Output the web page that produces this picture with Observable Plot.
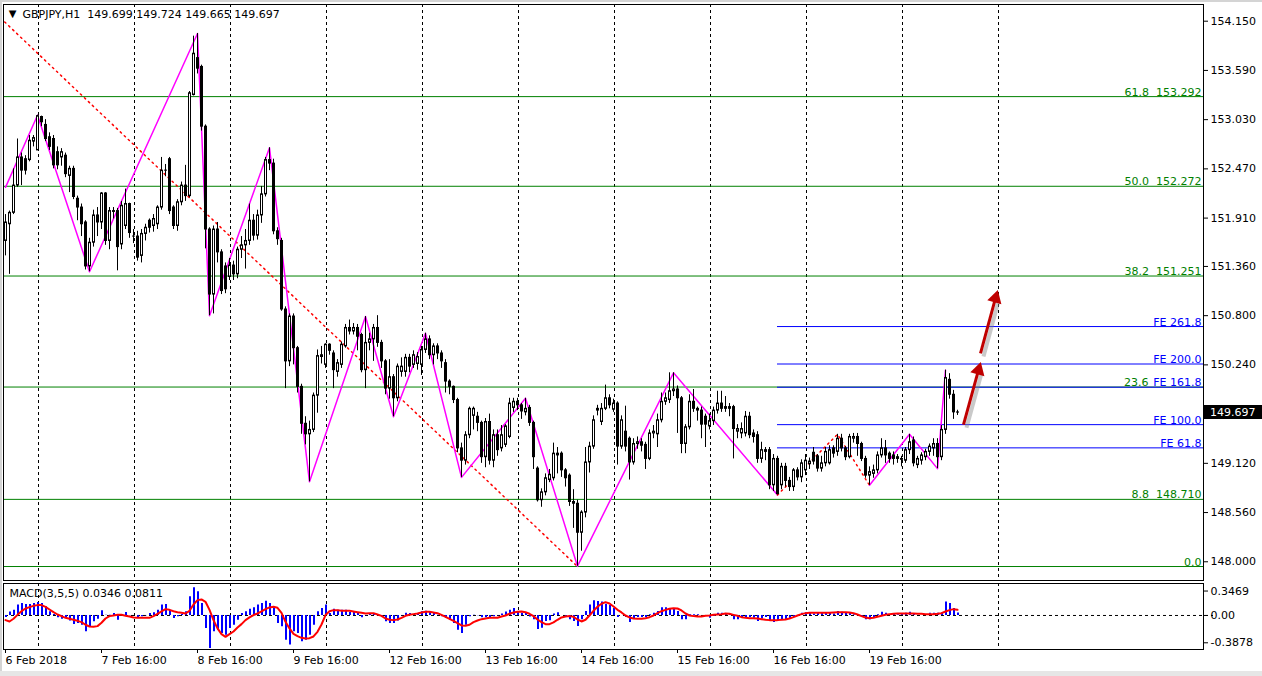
<!DOCTYPE html>
<html><head><meta charset="utf-8">
<script src="https://cdn.jsdelivr.net/npm/d3@7"></script>
<script src="https://cdn.jsdelivr.net/npm/@observablehq/plot@0.6"></script>
<style>
html,body{margin:0;padding:0;background:#fff;}
#wrap{position:relative;width:1262px;height:676px;overflow:hidden;background:#fff;}
#main{position:absolute;left:0;top:0;}
#macd{position:absolute;left:0;top:582px;}
.edge{position:absolute;background:#d4d4d4;}
</style></head>
<body><div id="wrap"><div id="main"></div><div id="macd"></div>
<div class="edge" style="left:0;top:0;width:1262px;height:2px;"></div>
<div class="edge" style="left:0;top:0;width:2px;height:676px;"></div>
<div class="edge" style="left:0;top:671px;width:1262px;height:5px;background:#e6e6e6;"></div>
</div>
<script>
// ---------- data (GBPJPY H1, one value per hourly bar) ----------
const symbol = "GBPJPY,H1";
const open = [
151.65,151.84,151.97,152.28,152.60,152.58,152.57,152.78,152.68,153.06,
152.97,152.83,152.81,152.66,152.60,152.62,152.39,152.47,152.13,152.03,
151.86,151.36,151.63,151.94,151.86,152.19,151.65,151.99,151.99,151.61,
151.82,152.07,151.70,151.70,151.48,151.73,151.88,151.82,151.84,152.03,
152.45,152.58,152.03,151.82,152.09,152.28,152.16,153.31,153.73,153.63,
152.95,151.78,151.04,151.78,151.52,151.36,151.24,151.37,151.27,151.55,
151.60,151.65,151.88,151.71,151.94,152.18,152.57,152.53,151.76,151.65,
150.87,150.28,150.79,150.43,149.99,149.57,149.45,149.50,149.89,150.35,
150.24,150.47,150.37,150.16,150.24,150.45,150.66,150.62,150.66,150.58,
150.18,150.49,150.53,150.66,150.49,150.28,149.97,150.10,149.86,150.16,
150.16,150.32,150.24,150.25,150.24,150.41,150.53,150.35,150.45,150.37,
150.26,150.05,149.99,149.84,149.29,149.15,149.44,149.66,149.65,149.58,
149.19,149.59,149.15,149.44,149.29,149.33,149.42,149.75,149.82,149.78,
149.70,149.75,149.58,149.06,148.70,148.79,148.93,148.95,149.23,149.23,
149.04,148.98,148.68,148.66,148.33,148.56,149.13,149.31,149.74,149.59,
149.74,149.86,149.73,149.80,149.31,149.48,149.40,149.13,149.34,149.36,
149.33,149.17,149.46,149.45,149.61,149.82,149.84,149.94,149.96,149.86,
149.34,149.53,149.82,149.74,149.72,149.65,149.54,149.60,149.72,149.80,
149.76,149.76,149.76,149.48,149.46,149.46,149.65,149.46,149.44,149.17,
149.27,149.27,148.87,149.17,148.87,149.08,148.92,148.85,149.04,148.96,
149.04,149.11,149.24,149.20,149.06,149.12,149.12,149.29,149.25,149.40,
149.29,149.19,149.40,149.42,149.34,149.17,148.98,149.00,149.04,149.21,
149.29,149.23,149.21,149.19,149.17,149.15,149.27,149.38,149.10,149.15,
149.19,149.25,149.29,149.34,149.19,149.50,150.07,149.90,149.699];
const high = [
151.95,151.99,152.47,152.81,152.65,152.62,152.85,152.85,153.08,153.07,
153.03,152.88,152.85,152.72,152.70,152.65,152.50,152.50,152.16,152.07,
151.88,151.68,152.00,152.03,152.20,152.20,152.03,152.03,152.02,152.10,
152.24,152.08,151.78,151.76,151.78,151.84,151.90,151.95,152.05,152.60,
152.52,152.60,152.05,152.12,152.32,152.51,153.35,153.98,154.01,153.65,
152.97,151.80,151.82,151.86,151.55,151.40,151.45,151.42,151.58,151.70,
151.78,152.07,151.95,152.00,152.27,152.60,152.71,152.58,151.80,151.68,
150.90,150.82,150.82,150.45,150.02,149.65,149.60,149.92,150.41,150.45,
150.48,150.48,150.40,150.30,150.50,150.70,150.75,150.71,150.70,150.60,
150.79,150.60,150.70,150.80,150.52,150.30,150.30,150.13,150.25,150.32,
150.36,150.36,150.40,150.38,150.45,150.60,150.57,150.48,150.48,150.40,
150.30,150.07,150.00,149.86,149.35,149.48,149.76,149.76,149.70,149.60,
149.63,149.68,149.50,149.50,149.55,149.56,149.86,149.86,149.86,149.80,
149.86,149.78,149.60,149.08,148.83,149.00,149.05,149.35,149.30,149.25,
149.06,149.00,148.82,148.70,148.58,149.30,149.36,149.66,149.78,149.80,
150.01,149.90,149.85,149.82,149.66,149.77,149.42,149.40,149.42,149.40,
149.36,149.50,149.55,149.68,149.92,149.92,150.15,150.15,150.00,149.88,
149.56,149.90,149.96,149.76,149.76,149.68,149.68,149.76,149.94,149.94,
149.88,149.80,149.78,149.56,149.58,149.71,149.70,149.50,149.48,149.36,
149.30,149.30,149.22,149.20,149.12,149.12,148.96,149.06,149.07,149.16,
149.22,149.18,149.30,149.22,149.20,149.30,149.32,149.32,149.45,149.45,
149.31,149.45,149.46,149.46,149.36,149.20,149.08,149.10,149.25,149.40,
149.38,149.25,149.25,149.22,149.20,149.30,149.45,149.42,149.20,149.24,
149.28,149.34,149.40,149.40,149.55,150.18,150.14,149.95,149.724];
const low = [
151.48,151.27,151.95,152.26,152.28,152.40,152.55,152.72,152.68,152.95,
152.78,152.68,152.47,152.46,152.50,152.37,152.20,152.12,151.88,151.70,
151.32,151.30,151.58,151.70,151.78,151.60,151.55,151.90,151.31,151.55,
151.78,151.68,151.62,151.42,151.40,151.65,151.74,151.75,151.78,152.00,
152.38,151.95,151.78,151.76,152.05,152.10,152.14,153.30,153.55,152.90,
151.56,150.80,150.82,151.40,151.04,151.05,151.20,151.20,151.22,151.45,
151.33,151.60,151.65,151.66,151.85,152.15,152.45,151.72,151.60,150.85,
149.97,150.22,150.24,149.92,149.45,149.33,148.91,149.47,149.69,150.25,
150.20,150.35,149.97,150.10,150.20,150.43,150.58,150.58,150.40,150.15,
149.97,150.40,150.28,150.44,150.20,149.90,149.85,149.65,149.82,150.10,
150.10,150.15,150.20,150.18,150.12,150.37,150.30,150.24,150.30,150.20,
149.92,149.90,149.80,149.24,148.96,149.10,149.40,149.50,149.48,149.12,
149.07,149.10,149.07,149.20,149.25,149.30,149.40,149.70,149.72,149.62,
149.66,149.54,149.05,148.68,148.62,148.75,148.90,148.92,149.00,148.96,
148.85,148.63,148.38,147.95,148.12,148.50,149.01,149.28,149.66,149.55,
149.72,149.74,149.70,149.10,149.28,149.25,148.93,149.10,149.28,149.25,
149.05,149.15,149.40,149.30,149.58,149.78,149.80,149.88,149.46,149.23,
149.23,149.50,149.70,149.60,149.40,149.30,149.50,149.55,149.68,149.70,
149.70,149.65,149.17,149.40,149.40,149.42,149.40,149.35,149.12,149.12,
149.15,148.82,148.80,148.76,148.82,148.85,148.80,148.80,148.92,148.90,
148.98,149.05,149.10,149.02,149.02,149.08,149.10,149.18,149.20,149.25,
149.15,149.17,149.35,149.20,149.14,148.95,148.87,148.95,149.00,149.18,
149.12,149.12,149.10,149.12,149.08,149.12,149.22,149.08,149.06,149.10,
149.15,149.20,149.20,149.06,149.15,149.45,149.85,149.62,149.665];
const close = [
151.86,151.97,152.28,152.60,152.45,152.45,152.79,152.82,153.07,153.00,
152.81,152.72,152.51,152.51,152.66,152.41,152.47,152.15,152.03,151.84,
151.36,151.63,151.94,151.86,152.19,151.65,151.99,151.98,151.58,152.05,
152.07,151.74,151.70,151.46,151.73,151.80,151.80,151.90,152.03,152.45,
152.45,151.99,151.82,152.09,152.28,152.16,153.33,153.78,153.61,152.95,
151.78,151.04,151.78,151.52,151.08,151.10,151.37,151.27,151.55,151.60,
151.65,151.88,151.71,151.94,152.18,152.57,152.53,151.76,151.67,150.87,
150.28,150.79,150.43,149.99,149.57,149.45,149.50,149.89,150.34,150.33,
150.47,150.40,150.18,150.26,150.47,150.66,150.62,150.66,150.56,150.18,
150.49,150.53,150.66,150.49,150.28,149.97,150.10,149.86,150.22,150.22,
150.32,150.22,150.35,150.33,150.41,150.53,150.35,150.45,150.37,150.28,
150.05,149.99,149.84,149.29,149.15,149.44,149.74,149.74,149.58,149.19,
149.59,149.15,149.44,149.27,149.44,149.54,149.80,149.82,149.78,149.71,
149.74,149.58,149.19,148.70,148.79,148.95,148.99,149.23,149.21,149.04,
148.95,148.68,148.66,148.33,148.56,149.13,149.31,149.61,149.72,149.74,
149.86,149.78,149.80,149.31,149.61,149.31,149.13,149.34,149.36,149.32,
149.17,149.46,149.48,149.61,149.82,149.86,149.94,149.96,149.86,149.34,
149.53,149.82,149.74,149.72,149.56,149.56,149.60,149.72,149.80,149.74,
149.74,149.74,149.51,149.51,149.51,149.65,149.44,149.42,149.17,149.27,
149.25,148.87,149.17,148.77,149.08,148.92,148.85,149.04,148.96,149.12,
149.15,149.14,149.14,149.06,149.12,149.25,149.27,149.23,149.40,149.29,
149.19,149.42,149.42,149.34,149.17,148.98,149.02,149.04,149.21,149.29,
149.21,149.17,149.17,149.17,149.16,149.27,149.36,149.12,149.17,149.21,
149.25,149.31,149.34,149.19,149.50,150.09,149.90,149.70,149.697];

// MACD(3,5,5): histogram (main) and signal line, read per bar
const macdMain = [
-0.03,0.05,0.076,0.147,0.17,0.156,0.156,0.17,0.184,0.17,
0.123,0.052,0.014,-0.033,-0.052,-0.043,-0.08,-0.128,-0.114,-0.137,
-0.232,-0.16,-0.09,-0.052,0.066,0.005,0.005,0.028,-0.066,0.014,
0.043,-0.005,0,-0.043,-0.019,-0.005,0.028,0.038,0.076,0.147,
0.156,0.076,-0.043,-0.019,0.014,0.052,0.265,0.393,0.336,0.17,
-0.184,-0.468,-0.232,-0.208,-0.255,-0.279,-0.184,-0.137,-0.066,0.028,
0.052,0.09,0.109,0.147,0.17,0.203,0.17,0.109,-0.114,-0.161,
-0.35,-0.42,-0.232,-0.255,-0.374,-0.35,-0.279,-0.137,0.052,0.099,
0.147,0.028,0.09,0.076,0.076,0.076,0.043,0.052,0.028,-0.033,
-0.005,0.014,0.028,0.005,-0.019,-0.09,-0.114,-0.114,-0.08,-0.005,
0.033,0.028,0.014,0.028,0.052,0.061,0.043,0.038,0.005,-0.019,
-0.043,-0.066,-0.114,-0.208,-0.255,-0.137,-0.019,0.005,-0.005,-0.033,
-0.033,-0.043,-0.019,-0.005,0.02,0.05,0.076,0.1,0.05,0.03,
0.04,-0.02,-0.06,-0.2,-0.18,-0.085,-0.075,0.02,0.04,0,
-0.015,-0.06,-0.085,-0.155,-0.06,0.057,0.15,0.21,0.2,0.19,
0.16,0.14,0.1,-0.03,0,-0.03,-0.1,-0.05,-0.03,-0.03,
-0.03,0.01,0.03,0.057,0.11,0.11,0.1,0.09,0.057,-0.06,
-0.06,0.01,0.01,0.01,0,-0.015,-0.04,-0.015,0.03,0.03,
0.02,0.02,-0.06,-0.06,-0.03,-0.03,-0.03,-0.04,-0.085,-0.05,
-0.03,-0.085,-0.1,-0.08,-0.06,-0.06,-0.05,-0.03,0,0.03,
0.04,0.035,0.02,0.03,0.03,0.03,0.03,0.02,0.057,0.047,
0.03,0.03,0.01,0.01,-0.015,-0.06,-0.06,-0.03,0.01,0.047,
0.03,0.01,0.02,0.01,0.02,0.03,0.047,0.02,0,0,
0.01,0.03,0.03,0.03,0.035,0.19,0.17,0.1,0.0346];
const macdSignal = [
-0.066,-0.085,-0.047,0.009,0.061,0.099,0.118,0.137,0.147,0.147,
0.123,0.085,0.047,0.014,-0.009,-0.033,-0.047,-0.061,-0.076,-0.095,
-0.132,-0.156,-0.161,-0.151,-0.104,-0.043,-0.009,0,0.009,0.009,
-0.005,-0.014,-0.028,-0.033,-0.033,-0.033,-0.033,-0.009,0.024,0.057,
0.09,0.08,0.061,0.047,0.038,0.028,0.066,0.156,0.218,0.227,
0.194,0.08,-0.066,-0.184,-0.265,-0.303,-0.265,-0.227,-0.17,-0.123,
-0.066,-0.028,0.005,0.028,0.057,0.09,0.114,0.123,0.109,0.038,
-0.09,-0.184,-0.26,-0.293,-0.317,-0.326,-0.322,-0.298,-0.232,-0.128,
0.005,0.061,0.076,0.076,0.066,0.066,0.066,0.057,0.047,0.038,
0.028,0.033,0.033,0.014,-0.005,-0.043,-0.061,-0.066,-0.057,-0.033,
-0.005,0.009,0.019,0.028,0.043,0.052,0.052,0.043,0.033,0.009,
-0.019,-0.047,-0.076,-0.109,-0.142,-0.147,-0.132,-0.095,-0.071,-0.052,
-0.043,-0.033,-0.033,-0.033,-0.014,0,0.024,0.043,0.052,0.057,
0.047,0.024,-0.009,-0.057,-0.095,-0.123,-0.123,-0.099,-0.061,-0.028,
-0.014,-0.009,-0.019,-0.057,-0.085,-0.061,0,0.066,0.123,0.166,
0.189,0.17,0.128,0.08,0.043,0,-0.028,-0.043,-0.047,-0.047,
-0.038,-0.024,0,0.033,0.061,0.08,0.095,0.104,0.099,0.071,
0.028,0,-0.009,-0.014,-0.014,-0.005,0,0.009,0.014,0.019,
0.028,0.024,0.009,-0.005,-0.024,-0.033,-0.038,-0.038,-0.043,-0.052,
-0.061,-0.066,-0.066,-0.066,-0.061,-0.057,-0.043,-0.024,0,0.019,
0.033,0.038,0.038,0.038,0.038,0.038,0.038,0.043,0.047,0.047,
0.047,0.043,0.033,0.014,-0.009,-0.028,-0.038,-0.033,-0.019,-0.005,
0.009,0.019,0.024,0.028,0.028,0.028,0.028,0.028,0.024,0.024,
0.019,0.019,0.019,0.024,0.033,0.057,0.076,0.09,0.0811];

// price axis ticks and MACD axis ticks
const priceTicks = [154.150,153.590,153.030,152.470,151.910,151.360,150.800,150.240,149.120,148.560,148.000];
const macdTicks = [0.3469, 0, -0.3878];
// time axis: bar index of each label
const timeLabelBars = [0,24,48,72,96,120,144,168,192,216];
const timeLabels = ["6 Feb 2018","7 Feb 16:00","8 Feb 16:00","9 Feb 16:00","12 Feb 16:00","13 Feb 16:00","14 Feb 16:00","15 Feb 16:00","16 Feb 16:00","19 Feb 16:00"];
const gridBars = [8.25,32.25,56.25,80.25,104.25,128.25,152.25,176.25,200.25,224.25,248.25];

// Fibonacci retracement levels
const fiboLevels = ["0.0","8.8","23.6","38.2","50.0","61.8"];
const fiboPrices = [147.946,148.710,149.988,151.251,152.272,153.292];
const fiboAnchorBars = [-57,143];
const fiboAnchorPrices = [156.598,147.946];
// Fibonacci expansion levels
const feLevels = ["FE 61.8","FE 100.0","FE 161.8","FE 200.0","FE 261.8"];
const fePrices = [149.296,149.560,149.986,150.250,150.676];
const feBars = [193,208,216];            // A, B, C points
const fePointPrices = [148.76,149.45,148.87];
// ZigZag swing points (two visible legs)
const zigzagLeg = [1,1,1,1,1,1,1,1,1,1,1,1,1,1,1,2,2,2,2];
const zigzagBars = [0,8,21,48,51,66,76,90,97,105,114,130,143,167,193,216,226,233,235];
const zigzagPrices = [152.26,153.08,151.30,154.01,150.80,152.71,148.91,150.79,149.65,150.60,148.96,149.86,147.95,150.15,148.76,148.87,149.45,149.06,150.18];
// hand-drawn arrows (start bar/price -> end bar/price)
const arrowFromBars = [239.5,243.75], arrowFromPrices = [149.56,150.37];
const arrowToBars = [243.25,247.5], arrowToPrices = [150.18,151.00];
const macdName = "MACD(3,5,5)";

// ---------- build ----------
const n = close.length;
const candles = d3.range(n).map(i => ({i, o: open[i], h: high[i], l: low[i], c: close[i]}));
const ups = candles.filter(d => d.c > d.o);
const fibo = fiboLevels.map((l, k) => ({l, p: fiboPrices[k]}));
const fe = feLevels.map((l, k) => ({l, p: fePrices[k]}));
const fiboDiag = fiboAnchorBars.map((b, k) => ({b, p: fiboAnchorPrices[k]}));
const feTri = feBars.map((b, k) => ({b, p: fePointPrices[k]}));
const zz = zigzagBars.map((b, k) => ({b, p: zigzagPrices[k], leg: zigzagLeg[k]}));
const arrows = arrowFromBars.map((b, k) => ({x1: b, y1: arrowFromPrices[k], x2: arrowToBars[k], y2: arrowToPrices[k]}));
const macd = d3.range(n).map(i => ({i, m: macdMain[i], s: macdSignal[i]}));
const last = candles[n - 1];
const fmt3 = d => d.toFixed(3);

const GREEN = "#008000", BLUE = "#0000ff", RED = "#ff0000", MAG = "#ff00ff";
const xDomain = [-0.5, 299.5];
const font = {fontFamily: "'DejaVu Sans', sans-serif", fontSize: "11px", background: "transparent", color: "black"};

const main = Plot.plot({
  width: 1262, height: 582,
  marginLeft: 3, marginRight: 59, marginTop: 4, marginBottom: 2,
  style: font,
  x: {domain: xDomain, axis: null},
  y: {domain: [147.787, 154.340]},
  marks: [
    Plot.ruleX(gridBars, {stroke: "black", strokeDasharray: "3,3"}),
    Plot.ruleY(fibo, {y: "p", stroke: GREEN}),
    Plot.ruleY(fe, {y: "p", x1: feBars[0], x2: xDomain[1], stroke: BLUE}),
    Plot.text(fibo.filter(d => d.l !== "23.6" && d.l !== "0.0"), {y: "p", text: d => d.l + "\u00a0 " + fmt3(d.p), frameAnchor: "right", textAnchor: "end", lineAnchor: "bottom", dx: -2, dy: -1, fill: GREEN}),
    Plot.text(fibo.filter(d => d.l === "0.0"), {y: "p", text: "l", frameAnchor: "right", textAnchor: "end", lineAnchor: "bottom", dx: -2, dy: -1, fill: GREEN}),
    Plot.text(fibo.filter(d => d.l === "23.6"), {y: "p", text: "l", frameAnchor: "right", textAnchor: "end", lineAnchor: "bottom", dx: -55, dy: -1, fill: GREEN}),
    Plot.text(fe, {y: "p", text: "l", frameAnchor: "right", textAnchor: "end", lineAnchor: "bottom", dx: -2, dy: -1, fill: BLUE}),
    Plot.line(fiboDiag, {x: "b", y: "p", stroke: RED, strokeDasharray: "1.5,4", clip: true}),
    Plot.line(zz, {x: "b", y: "p", z: "leg", stroke: MAG}),
    Plot.line(feTri, {x: "b", y: "p", stroke: RED, strokeDasharray: "1.5,4"}),
    Plot.ruleX(candles, {x: "i", y1: "h", y2: "l", stroke: "black"}),
    Plot.ruleX(candles, {x: "i", y1: d => Math.max(d.o, d.c), y2: d => Math.min(d.o, d.c), stroke: "black", strokeWidth: 3, insetTop: -0.5, insetBottom: -0.5}),
    Plot.ruleX(ups, {x: "i", y1: "c", y2: "o", stroke: "white", strokeWidth: 1, insetTop: 1, insetBottom: 1}),
    Plot.link(arrows, {x1: "x1", y1: "y1", x2: "x2", y2: "y2", stroke: "#888", strokeOpacity: 0.45, strokeWidth: 4, dx: 3, dy: 3}),
    Plot.link(arrows, {x1: "x1", y1: "y1", x2: "x2", y2: "y2", stroke: "#c00000", strokeWidth: 3}),
    Plot.dot(arrows, {x: "x2", y: "y2", symbol: "triangle2", r: 7, fill: "#c00000", rotate: 16}),
    Plot.frame({stroke: "black"}),
    Plot.axisY(priceTicks, {anchor: "right", tickSize: 4, tickPadding: 3, tickFormat: fmt3, label: null}),
    Plot.text(["\u25BC"], {frameAnchor: "top-left", dx: 9, dy: 9, fontSize: 10, textAnchor: "middle", lineAnchor: "middle"}),
    Plot.text([`${symbol}  ${last.o.toFixed(3)} ${last.h.toFixed(3)} ${last.l.toFixed(3)} ${last.c.toFixed(3)}`], {frameAnchor: "top-left", dx: 19, dy: 10, textAnchor: "start", lineAnchor: "middle"})
  ]
});
// current-price marker on the price axis
{
  const y = main.scale("y").apply(last.c);
  const svg = d3.select(main);
  svg.append("rect").attr("x", 1204).attr("y", Math.round(y) - 7).attr("width", 58).attr("height", 14).attr("fill", "black");
  svg.append("text").attr("x", 1210).attr("y", Math.round(y)).attr("dy", "0.35em").attr("fill", "white")
    .attr("text-anchor", "start")
    .attr("font-family", "'DejaVu Sans', sans-serif").attr("font-size", 11).text(fmt3(last.c));
}
document.getElementById("main").appendChild(main);

const labelOf = new Map(timeLabelBars.map((b, k) => [b, timeLabels[k]]));
const macdChart = Plot.plot({
  width: 1262, height: 94,
  marginLeft: 3, marginRight: 59, marginTop: 1, marginBottom: 27,
  style: font,
  x: {domain: xDomain},
  y: {domain: [-0.483, 0.454]},
  marks: [
    Plot.ruleX(gridBars, {stroke: "black", strokeDasharray: "3,3"}),
    Plot.ruleY([0], {stroke: "black", strokeDasharray: "3,3", x2: 302}),
    Plot.ruleX(macd, {x: "i", y1: d => Math.max(0, d.m), y2: d => Math.min(0, d.m), stroke: BLUE, strokeWidth: 2, dx: 0.5}),
    Plot.line(macd, {x: "i", y: "s", stroke: RED, strokeWidth: 2}),
    Plot.frame({stroke: "black"}),
    Plot.axisY(macdTicks, {anchor: "right", tickSize: 4, tickPadding: 3, tickFormat: d => d === 0 ? "0.00" : d.toFixed(4), label: null}),
    Plot.axisX(timeLabelBars, {anchor: "bottom", tickSize: 4, tickPadding: 3, textAnchor: "start", tickFormat: d => labelOf.get(d), label: null}),
    Plot.text([`${macdName} ${macdMain[n - 1].toFixed(4)} ${macdSignal[n - 1].toFixed(4)}`], {frameAnchor: "top-left", dx: 6, dy: 10, textAnchor: "start", lineAnchor: "middle"})
  ]
});
document.getElementById("macd").appendChild(macdChart);
</script>
</body></html>
